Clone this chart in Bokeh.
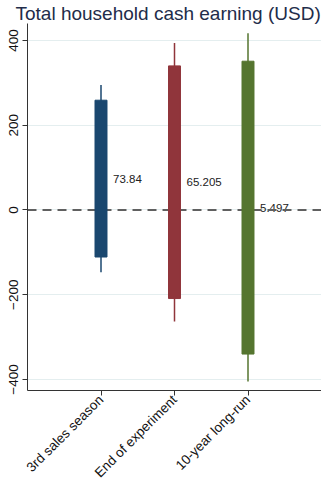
import math
from bokeh.plotting import figure
from bokeh.models import Range1d, FixedTicker, ColumnDataSource
from bokeh.embed import file_html
from bokeh.resources import INLINE
from bokeh.core.properties import value

# ---- data ----
categories = ["3rd sales season", "End of experiment", "10-year long-run"]
positions = [1, 2, 3]
estimates = [73.84, 65.205, 5.497]
estimate_labels = ["73.84", "65.205", "5.497"]
ci90_low = [-111, -209, -340]
ci90_high = [259, 340, 351]
ci95_low = [-147, -263, -405]
ci95_high = [295, 394, 417]
bar_colors = ["#1a476f", "#90353b", "#55752f"]
y_ticks = [-400, -200, 0, 200, 400]

FONT = "Liberation Sans"

src = ColumnDataSource(dict(
    x=positions, est=estimates, lab=estimate_labels,
    lo90=ci90_low, hi90=ci90_high, lo95=ci95_low, hi95=ci95_high,
    color=bar_colors,
))

p = figure(width=321, height=488, output_backend="svg", toolbar_location=None,
           x_range=Range1d(0, 4), y_range=Range1d(-426, 440),
           min_border_left=27, min_border_right=0, min_border_top=0,
           min_border_bottom=95)
p.outline_line_color = None
p.background_fill_color = "white"
p.border_fill_color = "white"

# title
p.title.text = "Total household cash earning (USD)"
p.title.align = "left"
p.title.offset = -12
p.title.standoff = 0
p.title.text_font = FONT
p.title.text_font_size = "19px"
p.title.text_font_style = "normal"
p.title.text_color = "#222c4a"

# grid
p.xgrid.grid_line_color = None
p.ygrid.grid_line_color = "#e4eeef"
p.ygrid.grid_line_width = 1

# axes
for ax in (p.xaxis[0], p.yaxis[0]):
    ax.axis_line_color = "#333333"
    ax.axis_line_width = 1
    ax.major_tick_line_color = "#333333"
    ax.major_tick_out = 5
    ax.major_tick_in = 0
    ax.minor_tick_line_color = None
    ax.major_label_text_font = FONT
    ax.major_label_text_font_size = "13.5px"
    ax.major_label_text_color = "#111111"

p.yaxis.ticker = FixedTicker(ticks=y_ticks)
p.yaxis.major_label_orientation = "vertical"
p.yaxis.major_label_standoff = 4

p.xaxis.ticker = FixedTicker(ticks=positions)
p.xaxis.major_label_overrides = {pos: c for pos, c in zip(positions, categories)}
p.xaxis.major_label_orientation = math.pi / 4
p.xaxis.major_label_standoff = 2

# estimate labels
p.text(x="x", y="est", text="lab", source=src, x_offset=12,
       text_baseline="middle", text_align="left",
       text_font=value(FONT), text_font_size="11.5px", text_color="#222222")

# zero line
p.line(x=[0, 4], y=[0, 0], line_color="#606060", line_width=2, line_dash="9 6")

# 95% whiskers
p.segment(x0="x", y0="lo95", x1="x", y1="hi95", source=src,
          line_color="color", line_width=1.5)
# 90% boxes
p.vbar(x="x", bottom="lo90", top="hi90", width=0.163, source=src,
       fill_color="color", line_color="color")

open("out.html", "w").write(file_html(p, INLINE))
